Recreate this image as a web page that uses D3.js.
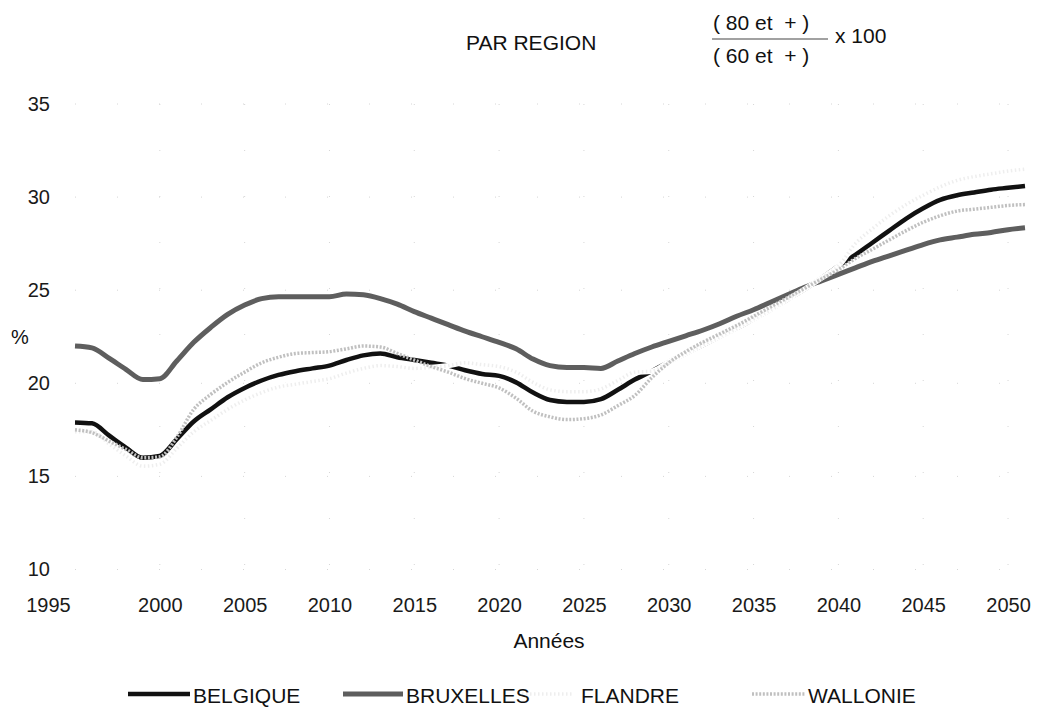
<!DOCTYPE html>
<html>
<head>
<meta charset="utf-8">
<script src="https://cdn.jsdelivr.net/npm/d3@7/dist/d3.min.js"></script>
<style>
  html, body { margin: 0; padding: 0; background: #fff; }
  svg { display: block; font-family: "Liberation Sans", Arial, Helvetica, sans-serif; }
  .axis text { font-size: 20px; fill: #1a1a1a; }
  .axis path, .axis line { display: none; }
  text.pre { white-space: pre; }
</style>
</head>
<body>
<svg id="chart" width="1039" height="712"></svg>
<script>
// Années 1995 → 2051, one value per year
const years = d3.range(1995, 2052);

// Rapport (80 et +) / (60 et +) x 100, par région
const belgique = [
  17.9, 17.85, 17.2, 16.55, 16.0, 16.1, 17.0, 17.95, 18.6, 19.25,
  19.75, 20.15, 20.45, 20.65, 20.8, 20.95, 21.25, 21.5, 21.6, 21.4,
  21.25, 21.1, 20.95, 20.7, 20.5, 20.4, 20.05, 19.5, 19.1, 19.0,
  19.0, 19.15, 19.65, 20.2, 20.65, 21.15, 21.6, 22.05, 22.5, 22.95,
  23.45, 23.95, 24.5, 25.05, 25.65, 26.3, 26.9, 27.55, 28.2, 28.85,
  29.4, 29.85, 30.1, 30.25, 30.4, 30.5, 30.6
];
const bruxelles = [
  22.0, 21.9, 21.35, 20.75, 20.2, 20.25, 21.2, 22.2, 23.0, 23.7,
  24.2, 24.55, 24.65, 24.65, 24.65, 24.65, 24.8, 24.75, 24.55, 24.25,
  23.85, 23.5, 23.15, 22.8, 22.5, 22.2, 21.85, 21.3, 20.95, 20.85,
  20.85, 20.8, 21.2, 21.6, 21.95, 22.25, 22.55, 22.85, 23.2, 23.6,
  23.95, 24.35, 24.75, 25.15, 25.5, 25.85, 26.2, 26.55, 26.85, 27.15,
  27.45, 27.7, 27.85, 28.0, 28.1, 28.25, 28.35
];
const flandre = [
  17.4, 17.4, 16.75, 16.1, 15.55, 15.65, 16.5, 17.4, 18.0, 18.6,
  19.1, 19.5, 19.8, 19.95, 20.1, 20.25, 20.55, 20.8, 20.95, 20.9,
  20.8, 20.85, 20.95, 21.1, 21.0, 20.9, 20.6, 20.05, 19.65, 19.55,
  19.55, 19.7, 20.15, 20.6, 20.65, 21.15, 21.6, 22.05, 22.5, 22.95,
  23.45, 23.95, 24.5, 25.05, 25.65, 26.3, 27.5, 28.3, 29.0, 29.6,
  30.1, 30.55, 30.9, 31.1, 31.25, 31.4, 31.5
];
const wallonie = [
  17.5, 17.35, 16.9, 16.45, 16.0, 16.05, 17.1, 18.6, 19.4, 20.05,
  20.6, 21.1, 21.4, 21.6, 21.65, 21.7, 21.85, 22.0, 21.95, 21.6,
  21.25, 20.9, 20.6, 20.25, 20.0, 19.75, 19.2, 18.5, 18.2, 18.05,
  18.1, 18.3, 18.8, 19.35, 20.3, 21.1, 21.7, 22.2, 22.65, 23.1,
  23.6, 24.1, 24.6, 25.1, 25.6, 26.1, 26.7, 27.2, 27.7, 28.2,
  28.65, 29.0, 29.25, 29.35, 29.45, 29.55, 29.6
];

const xTicks = d3.range(1995, 2051, 5);
const yTicks = [10, 15, 20, 25, 30, 35];

const regions = [
  { name: "BELGIQUE",  values: belgique  },
  { name: "BRUXELLES", values: bruxelles },
  { name: "FLANDRE",   values: flandre   },
  { name: "WALLONIE",  values: wallonie  }
];

// halo: a white underlay drawn beneath the stroke (hides what it crosses)
const styles = {
  BELGIQUE:  { stroke: "#111111", width: 4.5, dash: null,      halo: 0 },
  BRUXELLES: { stroke: "#5e5e5e", width: 5,   dash: null,      halo: 0 },
  FLANDRE:   { stroke: "#eeeeee", width: 3.5, dash: "1.5 2.5", halo: 5.5 },
  WALLONIE:  { stroke: "#c0c0c0", width: 3.5, dash: "2 1.6",   halo: 0 }
};

const svg = d3.select("#chart");

const x = d3.scaleLinear().domain([1995, 2051]).range([75, 1025]);
const y = d3.scaleLinear().domain([10, 35]).range([569.5, 104]);

// faint dotted grid
const grid = svg.append("g").attr("stroke", "#d6d6d6").attr("stroke-width", 1);
grid.selectAll("line.h").data(yTicks).join("line")
  .attr("x1", x(1995)).attr("x2", x(2051))
  .attr("y1", d => y(d)).attr("y2", d => y(d))
  .attr("stroke-dasharray", "1 41");
grid.selectAll("line.v").data(xTicks.slice(1)).join("line")
  .attr("x1", d => x(d)).attr("x2", d => x(d))
  .attr("y1", y(35)).attr("y2", y(10))
  .attr("stroke-dasharray", "1 45");

// axes (labels only)
svg.append("g").attr("class", "axis")
  .attr("transform", `translate(${x(1995)},0)`)
  .call(d3.axisLeft(y).tickValues(yTicks).tickSize(0).tickPadding(25).tickFormat(d3.format("d")));

const xAxis = svg.append("g").attr("class", "axis")
  .attr("transform", `translate(0,${y(10)})`)
  .call(d3.axisBottom(x).tickValues(xTicks).tickSize(0).tickPadding(28).tickFormat(d3.format("d")));
// first year label sits left of the corner
xAxis.selectAll(".tick").filter(d => d === 1995).select("text").attr("dx", -27);

// series
const line = d3.line()
  .x((d, i) => x(years[i]))
  .y(d => y(d))
  .curve(d3.curveMonotoneX);

const series = svg.append("g").selectAll("g").data(regions).join("g");
series.filter(d => styles[d.name].halo > 0).append("path")
  .attr("d", d => line(d.values))
  .attr("fill", "none")
  .attr("stroke", "#ffffff")
  .attr("stroke-width", d => styles[d.name].halo);
series.append("path")
  .attr("d", d => line(d.values))
  .attr("fill", "none")
  .attr("stroke", d => styles[d.name].stroke)
  .attr("stroke-width", d => styles[d.name].width)
  .attr("stroke-dasharray", d => styles[d.name].dash)
  .attr("stroke-linejoin", "round");

// titles
const txt = (tx, ty, s, size, anchor) => svg.append("text")
  .attr("class", "pre")
  .attr("x", tx).attr("y", ty).attr("font-size", size)
  .attr("text-anchor", anchor || "start").attr("fill", "#111")
  .attr("dominant-baseline", "central").text(s);

txt(466, 42, "PAR REGION", 21);
txt(713, 22, "( 80 et  + )", 21);
txt(713, 55, "( 60 et  + )", 21);
svg.append("line").attr("x1", 712).attr("x2", 828).attr("y1", 39).attr("y2", 39)
  .attr("stroke", "#444").attr("stroke-width", 1.2);
txt(835, 35, "x 100", 21);

txt(11, 337, "%", 20);
txt(549, 640, "Années", 21, "middle");

// legend
const legendItems = [
  { name: "BELGIQUE",  x1: 128, x2: 190, tx: 193 },
  { name: "BRUXELLES", x1: 343, x2: 403, tx: 406 },
  { name: "FLANDRE",   x1: 522, x2: 574, tx: 581 },
  { name: "WALLONIE",  x1: 752, x2: 805, tx: 808 }
];
const lg = svg.append("g");
lg.selectAll("line").data(legendItems).join("line")
  .attr("x1", d => d.x1).attr("x2", d => d.x2)
  .attr("y1", 694).attr("y2", 694)
  .attr("stroke", d => styles[d.name].stroke)
  .attr("stroke-width", d => styles[d.name].width)
  .attr("stroke-dasharray", d => styles[d.name].dash);
lg.selectAll("text").data(legendItems).join("text")
  .attr("x", d => d.tx).attr("y", 695)
  .attr("dominant-baseline", "central")
  .attr("font-size", 21).attr("fill", "#111")
  .text(d => d.name);
</script>
</body>
</html>
